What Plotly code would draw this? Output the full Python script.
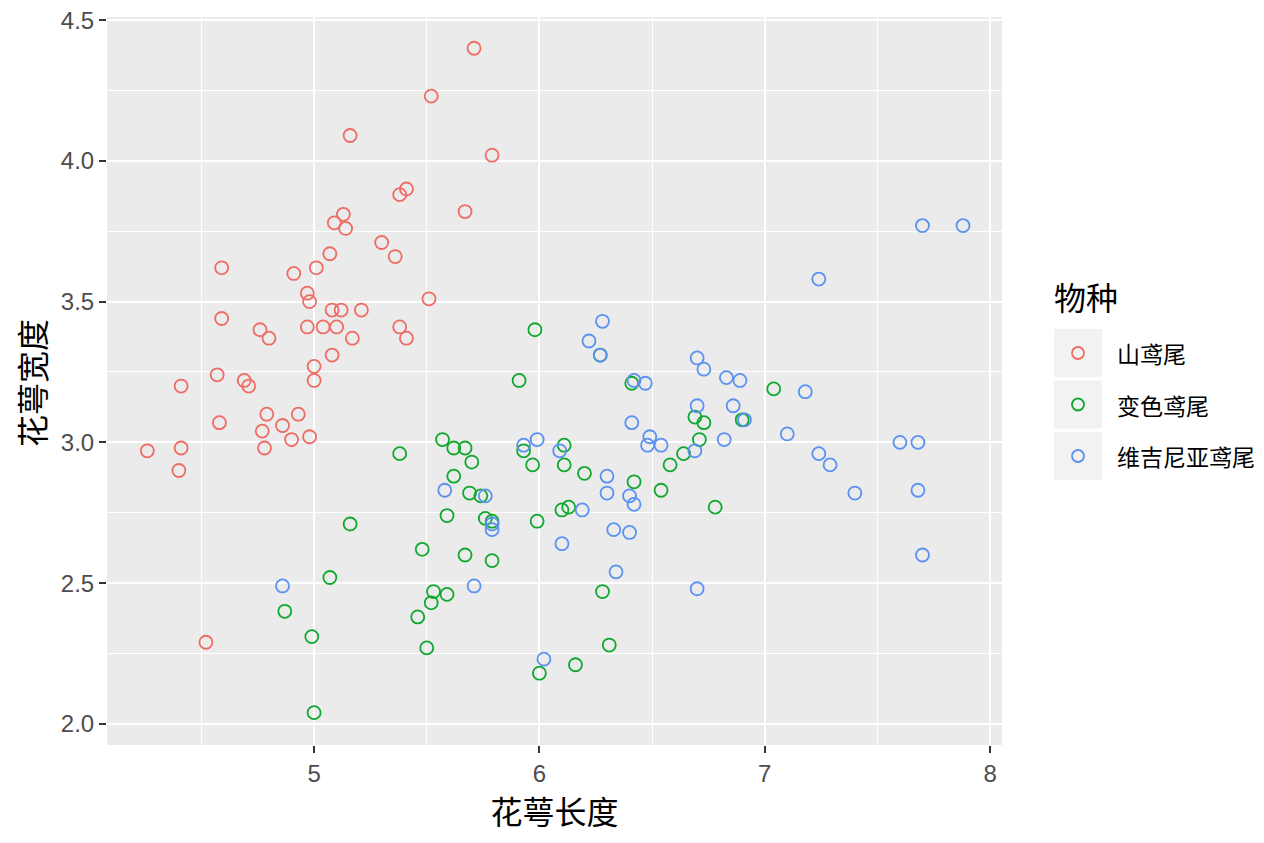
import plotly.graph_objects as go

# 鸢尾花数据（从图中读取，带抖动）
species = ["山鸢尾", "变色鸢尾", "维吉尼亚鸢尾"]
colors = ["#EE6C63", "#10A82E", "#5B91F2"]

setosa_x = [5.71, 5.52, 5.16, 5.79, 5.38, 5.41, 5.67, 5.13, 5.09, 5.14,
            5.30, 5.36, 5.07, 4.59, 5.01, 4.91, 4.97, 4.98, 5.51, 5.08,
            5.12, 5.21, 4.59, 4.76, 4.80, 4.97, 5.04, 5.10, 5.17, 5.38,
            5.41, 5.08, 5.00, 5.00, 4.57, 4.69, 4.71, 4.41, 4.79, 4.93,
            4.58, 4.86, 4.77, 4.90, 4.98, 4.78, 4.41, 4.26, 4.40, 4.52]
setosa_y = [4.40, 4.23, 4.09, 4.02, 3.88, 3.90, 3.82, 3.81, 3.78, 3.76,
            3.71, 3.66, 3.67, 3.62, 3.62, 3.60, 3.53, 3.50, 3.51, 3.47,
            3.47, 3.47, 3.44, 3.40, 3.37, 3.41, 3.41, 3.41, 3.37, 3.41,
            3.37, 3.31, 3.27, 3.22, 3.24, 3.22, 3.20, 3.20, 3.10, 3.10,
            3.07, 3.06, 3.04, 3.01, 3.02, 2.98, 2.98, 2.97, 2.90, 2.29]

versicolor_x = [5.98, 5.91, 6.27, 7.04, 6.41, 6.69, 6.73, 6.90, 6.71, 5.38,
                5.57, 5.62, 5.67, 5.93, 6.11, 6.64, 6.58, 5.70, 5.97, 6.11,
                6.20, 5.62, 6.42, 5.69, 5.74, 6.54, 5.59, 5.76, 5.79, 5.99,
                6.10, 6.13, 6.78, 5.16, 5.48, 5.67, 5.79, 5.07, 5.53, 5.59,
                5.52, 6.28, 4.87, 5.46, 4.99, 5.50, 6.31, 6.16, 6.00, 5.00]
versicolor_y = [3.40, 3.22, 3.31, 3.19, 3.21, 3.09, 3.07, 3.08, 3.01, 2.96,
                3.01, 2.98, 2.98, 2.97, 2.99, 2.96, 2.92, 2.93, 2.92, 2.92,
                2.89, 2.88, 2.86, 2.82, 2.81, 2.83, 2.74, 2.73, 2.72, 2.72,
                2.76, 2.77, 2.77, 2.71, 2.62, 2.60, 2.58, 2.52, 2.47, 2.46,
                2.43, 2.47, 2.40, 2.38, 2.31, 2.27, 2.28, 2.21, 2.18, 2.04]

virginica_x = [7.70, 7.88, 7.24, 6.28, 6.22, 6.27, 6.70, 6.73, 6.83, 6.89,
               6.42, 6.47, 7.18, 6.70, 6.86, 6.91, 6.41, 7.10, 6.49, 6.48,
               6.54, 6.82, 6.69, 5.93, 5.99, 6.09, 7.60, 7.68, 7.24, 7.29,
               6.30, 6.30, 6.40, 6.42, 5.58, 5.76, 5.79, 5.79, 6.19, 6.33,
               6.40, 7.40, 7.68, 6.10, 4.86, 5.71, 6.34, 7.70, 6.70, 6.02]
virginica_y = [3.77, 3.77, 3.58, 3.43, 3.36, 3.31, 3.30, 3.26, 3.23, 3.22,
               3.22, 3.21, 3.18, 3.13, 3.13, 3.08, 3.07, 3.03, 3.02, 2.99,
               2.99, 3.01, 2.97, 2.99, 3.01, 2.97, 3.00, 3.00, 2.96, 2.92,
               2.88, 2.82, 2.81, 2.78, 2.83, 2.81, 2.71, 2.69, 2.76, 2.69,
               2.68, 2.82, 2.83, 2.64, 2.49, 2.49, 2.54, 2.60, 2.48, 2.23]

xs = [setosa_x, versicolor_x, virginica_x]
ys = [setosa_y, versicolor_y, virginica_y]

CJK = "Noto Sans CJK SC"
LATIN = "Liberation Sans"

fig = go.Figure()
for name, color, x, y in zip(species, colors, xs, ys):
    fig.add_trace(go.Scatter(
        x=x, y=y, mode="markers", name=name, showlegend=False,
        marker=dict(symbol="circle-open", size=13, color=color,
                    line=dict(width=1.8, color=color)),
    ))

# page body has an 8px margin, so the figure is a bit smaller than the window
FIG_W, FIG_H, OFF = 1248, 826, 8
# panel edges as seen in the window
L, R, T, B = 107, 1002, 17, 745
W, H = R - L, B - T

def px_x(p):
    return (p - L) / W

def px_y(p):
    return (B - p) / H

# ggplot-like legend drawn by hand (the plotly legend would squeeze the panel)
shapes = []
annotations = [
    dict(text="物种", xref="paper", yref="paper", x=px_x(1052), y=px_y(296),
         xanchor="left", yanchor="middle", showarrow=False,
         font=dict(family=CJK, size=32, color="black")),
    # y axis title
    dict(text="花萼宽度", xref="paper", yref="paper", x=px_x(31), y=px_y(383),
         xanchor="center", yanchor="middle", textangle=-90, showarrow=False,
         font=dict(family=CJK, size=32, color="black")),
]
for i, (name, color) in enumerate(zip(species, colors)):
    top = 329 + i * 51.5
    cy = top + 24
    shapes.append(dict(type="rect", xref="paper", yref="paper",
                       x0=px_x(1054), x1=px_x(1102), y0=px_y(top + 48), y1=px_y(top),
                       fillcolor="#F2F2F2", line=dict(width=0), layer="below"))
    shapes.append(dict(type="circle", xref="paper", yref="paper",
                       x0=px_x(1072), x1=px_x(1084), y0=px_y(cy + 6), y1=px_y(cy - 6),
                       line=dict(color=color, width=1.8)))
    annotations.append(dict(
        text=name, xref="paper", yref="paper", x=px_x(1115), y=px_y(cy),
        xanchor="left", yanchor="middle", showarrow=False,
        font=dict(family=CJK, size=23, color="black"),
    ))

axis_common = dict(
    showgrid=True, gridcolor="white", gridwidth=2.2,
    zeroline=False, showline=False, automargin=False,
    ticks="outside", ticklen=7, tickwidth=2, tickcolor="#333333",
    ticklabeloverflow="allow",
    tickfont=dict(family=LATIN, size=24, color="#4D4D4D"),
)

fig.update_layout(
    width=FIG_W, height=FIG_H,
    margin=dict(l=L - OFF, r=FIG_W - (R - OFF), t=T - OFF, b=FIG_H - (B - OFF)),
    paper_bgcolor="white", plot_bgcolor="#EBEBEB",
    font=dict(family=CJK, color="black"),
    showlegend=False,
    shapes=shapes,
    annotations=annotations,
    xaxis=dict(
        range=[4.081, 8.053], tickvals=[5, 6, 7, 8], ticktext=["5", "6", "7", "8"],
        minor=dict(dtick=0.5, tick0=4.5, showgrid=True, gridcolor="white", gridwidth=1.1, ticks=""),
        title=dict(text="花萼长度", font=dict(family=CJK, size=32, color="black"), standoff=14),
        **axis_common,
    ),
    yaxis=dict(
        range=[1.925, 4.511], tickvals=[2.0, 2.5, 3.0, 3.5, 4.0, 4.5],
        ticktext=["2.0", "2.5", "3.0", "3.5", "4.0", "4.5"],
        minor=dict(dtick=0.25, tick0=2.25, showgrid=True, gridcolor="white", gridwidth=1.1, ticks=""),
        **axis_common,
    ),
)

fig.write_html("out.html")
